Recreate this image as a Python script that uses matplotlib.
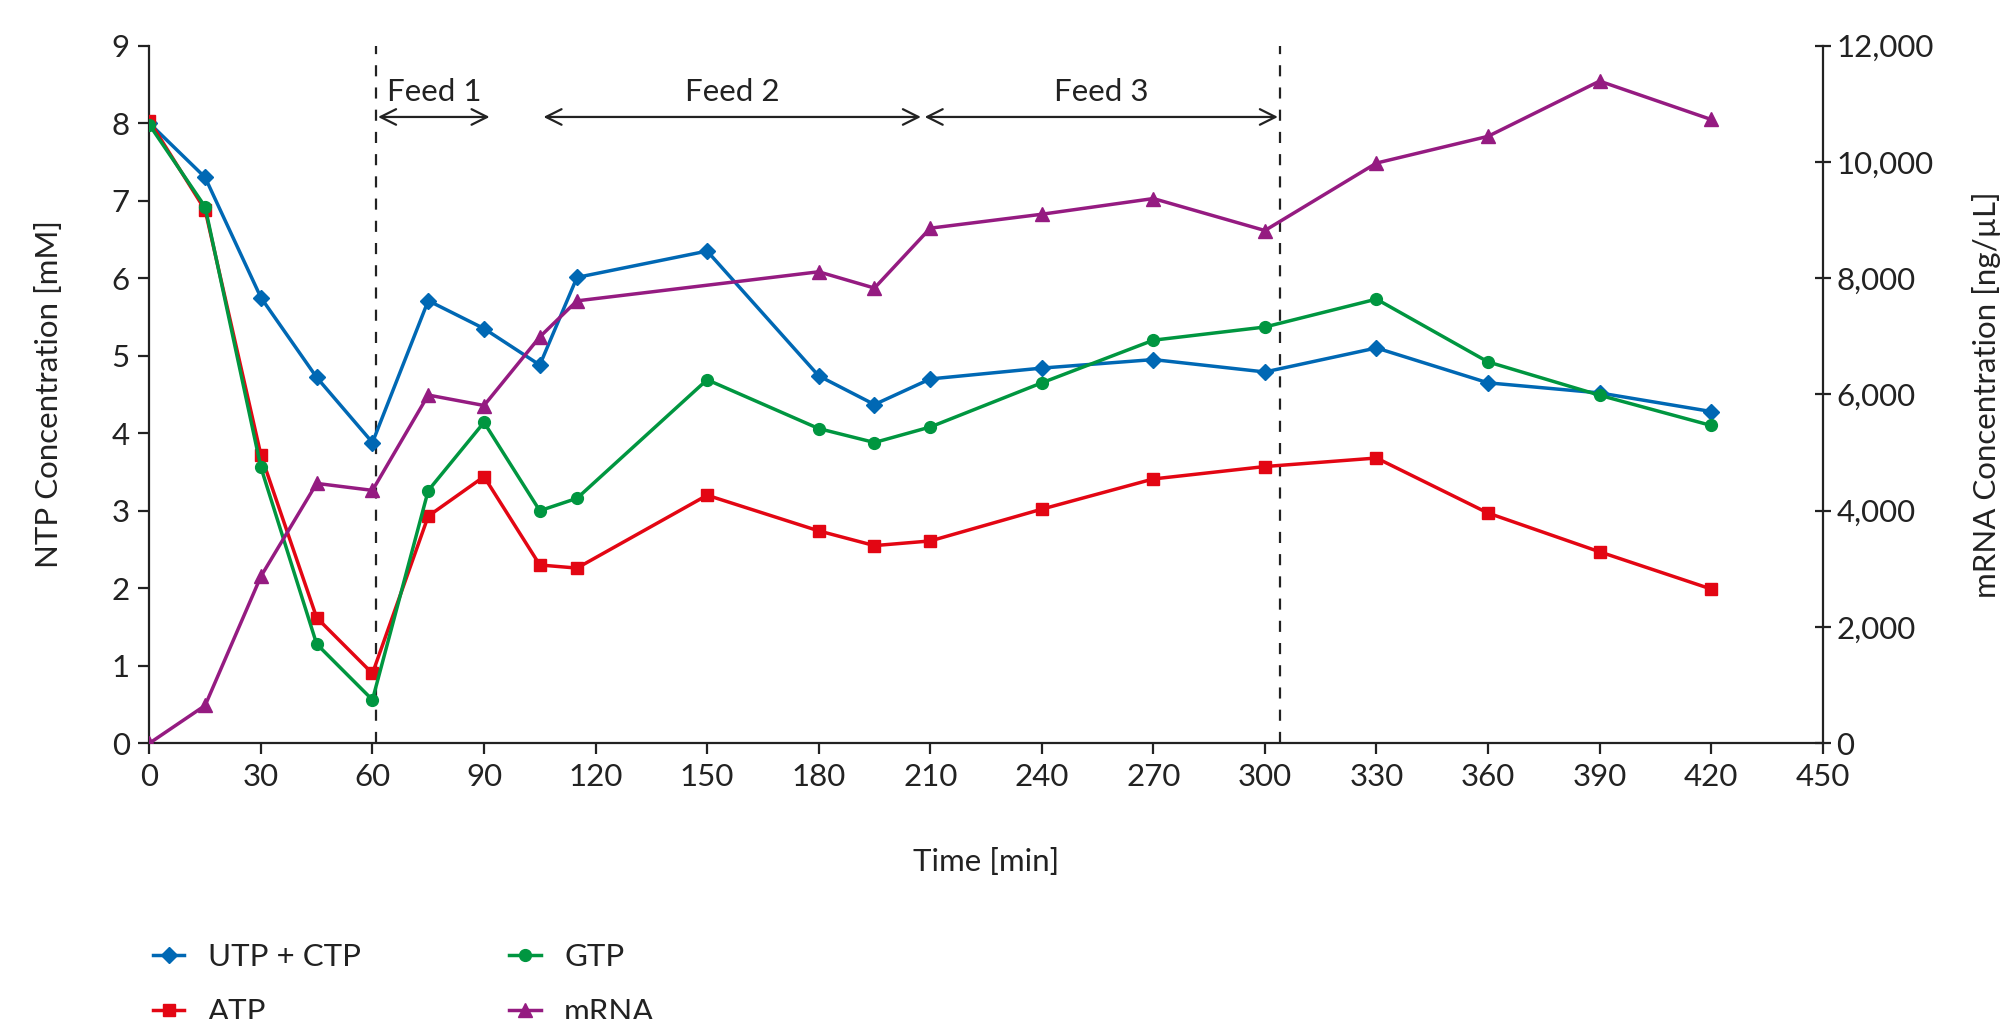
import matplotlib
matplotlib.use("Agg")
import matplotlib.pyplot as plt
from matplotlib.ticker import FuncFormatter

# time points [min]
time = [0, 15, 30, 45, 60, 75, 90, 105, 115, 150, 180, 195, 210, 240, 270, 300, 330, 360, 390, 420]

# NTP concentrations [mM]
utp_ctp = [8.0, 7.30, 5.75, 4.72, 3.88, 5.71, 5.35, 4.88, 6.01, 6.35, 4.74, 4.37, 4.70, 4.84, 4.95, 4.79, 5.10, 4.65, 4.52, 4.28]
atp = [8.03, 6.88, 3.72, 1.62, 0.90, 2.93, 3.44, 2.30, 2.26, 3.20, 2.74, 2.55, 2.61, 3.02, 3.41, 3.57, 3.68, 2.97, 2.47, 1.99]
gtp = [7.98, 6.92, 3.56, 1.28, 0.56, 3.26, 4.14, 3.00, 3.16, 4.69, 4.06, 3.88, 4.08, 4.65, 5.20, 5.37, 5.73, 4.92, 4.49, 4.10]

# mRNA [ng/uL] (no sample at 150 min)
time_mrna = [0, 15, 30, 45, 60, 75, 90, 105, 115, 180, 195, 210, 240, 270, 300, 330, 360, 390, 420]
mrna = [0, 650, 2870, 4470, 4350, 5990, 5810, 6990, 7610, 8110, 7830, 8860, 9100, 9370, 8820, 9980, 10440, 11390, 10730]

# feed phases
feed_labels = ["Feed 1", "Feed 2", "Feed 3"]
feed_start = [61.5, 106, 208.5]
feed_end = [91.5, 207.5, 303.5]
feed_lines = [61, 304]

blue = "#0068b4"
red = "#e30613"
green = "#009640"
purple = "#951b81"
ink = "#222222"

fs = 22.5

plt.rcParams["font.family"] = ["Lato", "DejaVu Sans"]
plt.rcParams["font.size"] = fs
plt.rcParams["text.color"] = ink
plt.rcParams["axes.labelcolor"] = ink
plt.rcParams["xtick.color"] = ink
plt.rcParams["ytick.color"] = ink


def main():
    fig = plt.figure(figsize=(20.1, 10.19), dpi=100)
    ax = fig.add_axes([0.0743, 0.2706, 0.8325, 0.6846])
    ax2 = ax.twinx()

    lw = 2.5
    l1, = ax.plot(time, utp_ctp, color=blue, lw=lw, marker="D", ms=8, label="UTP + CTP", zorder=3)
    l2, = ax.plot(time, atp, color=red, lw=lw, marker="s", ms=9, label="ATP", zorder=3)
    l3, = ax.plot(time, gtp, color=green, lw=lw, marker="o", ms=8.5, label="GTP", zorder=3)
    l4, = ax2.plot(time_mrna, mrna, color=purple, lw=lw, marker="^", ms=10, label="mRNA", zorder=3)

    # feed boundaries
    for x in feed_lines:
        ax.axvline(x, ymin=0, ymax=1, color=ink, lw=1.6, ls=(0, (5, 5)), zorder=1)

    for lab, x0, x1 in zip(feed_labels, feed_start, feed_end):
        ax.annotate("", xy=(x0, 8.08), xytext=(x1, 8.08),
                    arrowprops=dict(arrowstyle="<->", color=ink, lw=1.6,
                                    mutation_scale=28, shrinkA=0, shrinkB=0))
        ax.text((x0 + x1) / 2, 8.40, lab, ha="center", va="center", fontsize=fs)

    ax.set_xlim(0, 450)
    ax.set_ylim(0, 9)
    ax2.set_ylim(0, 12000)
    ax.set_xticks(range(0, 451, 30))
    ax.set_yticks(range(0, 10))
    ax2.set_yticks(range(0, 12001, 2000))
    ax2.yaxis.set_major_formatter(FuncFormatter(lambda v, p: f"{int(v):,}"))

    for a in (ax, ax2):
        a.spines["top"].set_visible(False)
        for s in a.spines.values():
            s.set_color(ink)
            s.set_linewidth(1.6)
    ax.spines["right"].set_visible(False)
    ax2.spines["left"].set_visible(False)
    ax2.spines["bottom"].set_visible(False)

    ax.tick_params(axis="both", direction="out", length=8, width=1.6, labelsize=fs, pad=6)
    ax2.tick_params(axis="y", direction="inout", length=12, width=1.6, labelsize=fs, pad=4)

    ax.set_xlabel("Time [min]", fontsize=fs)
    ax.xaxis.set_label_coords(0.5, -0.150)
    ax.set_ylabel("NTP Concentration [mM]", fontsize=fs)
    ax.yaxis.set_label_coords(-0.0516, 0.5)
    ax2.set_ylabel("mRNA Concentration [ng/µL]", fontsize=fs, rotation=90)
    ax2.yaxis.set_label_coords(1.089, 0.5)

    fig.legend(handles=[l1, l2, l3, l4], ncol=2, loc="upper left",
               bbox_to_anchor=(0.07, 0.0873), frameon=False, fontsize=fs,
               handlelength=1.0, handletextpad=0.75, columnspacing=4.75,
               labelspacing=0.87, borderaxespad=0)

    fig.savefig("out.png", dpi=100)
    plt.close(fig)


if __name__ == "__main__":
    main()
